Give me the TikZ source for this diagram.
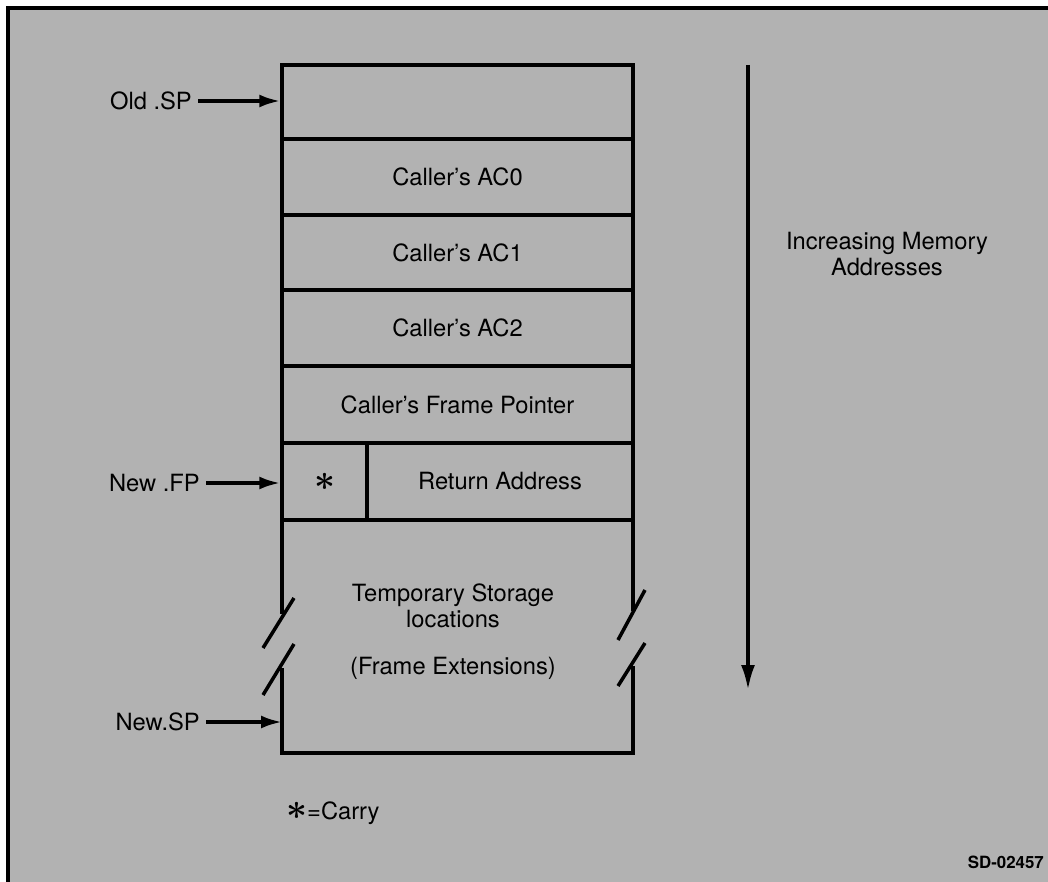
\documentclass[tikz,border=0pt]{standalone}
\usepackage{fontspec}
\setmainfont{TeX Gyre Heros}
\usetikzlibrary{positioning,arrows.meta}

\tikzset{
  cell/.style={draw, line width=2pt, minimum width=7.02cm, inner sep=0pt,
    font=\fontsize{13.5}{14.5}\selectfont},
  ptr/.style={-{Latex[length=0.42cm,width=0.26cm]}, line width=2pt},
  lbl/.style={font=\fontsize{13.5}{14.5}\selectfont, align=center},
}
\newcommand{\carrymark}{{\fontsize{22}{22}\selectfont\boldmath$\ast$}}

\begin{document}
\begin{tikzpicture}[x=0.02cm,y=-0.02cm]
  \useasboundingbox (0,0) rectangle (1048,882);
  \fill[black!30] (8,8) rectangle (1048,882);
  \draw[line width=2.6pt] (8,882) -- (8,8) -- (1048,8);

  % stack frame rows
  \foreach \nm/\yc/\hgt/\txt in
    {oldrow/102/1.48/{},
     aczero/177/1.52/{Caller's AC0},
     acone/252.5/1.5/{Caller's AC1},
     actwo/328/1.52/{Caller's AC2},
     callfp/404.5/1.54/{Caller's Frame Pointer}} {
    \node[cell, minimum height=\hgt cm] (\nm) at (457.5,\yc) {\txt};
  }
  \node[cell, minimum width=1.7cm, minimum height=1.54cm] (carry) at (324.5,481.5) {\carrymark};
  \node[cell, minimum width=5.32cm, minimum height=1.54cm] (ret) at (500,481.5) {Return Address};

  % temporary storage, broken sides
  \begin{scope}[line width=2pt]
    \draw (282,520) -- (282,614);
    \draw (282,668) -- (282,753) -- (633,753) -- (633,666);
    \draw (633,520) -- (633,611);
    \draw (263,648) -- (294,598);
    \draw (263,695) -- (294,644);
    \draw (618,640) -- (645,590);
    \draw (618,686) -- (645,643);
  \end{scope}
  \node[lbl] (tmp) at (453,606) {Temporary Storage\\locations};
  \node[lbl] (ext) at (453,668) {(Frame Extensions)};
  \coordinate (spend) at (282,722);

  % pointers
  \node[lbl, anchor=east] (oldsp) at (198,101) {Old .SP};
  \node[lbl, anchor=east] (newfp) at (206,483) {New .FP};
  \node[lbl, anchor=east] (newsp) at (206,722) {New.SP};
  \draw[ptr] (oldsp) -- (oldsp -| oldrow.west);
  \draw[ptr] (newfp) -- (newfp -| carry.west);
  \draw[ptr] (newsp) -- (spend);

  % direction of memory
  \coordinate (memtop) at (748,65);
  \coordinate (membot) at (748,690);
  \draw[ptr, -{Latex[length=0.5cm,width=0.28cm]}] (memtop) -- (membot);
  \node[lbl] (memlbl) at (887,254) {Increasing Memory\\Addresses};

  \node[lbl, anchor=west] (legend) at (280,813) {\carrymark=Carry};
  \node[anchor=east, font=\bfseries\fontsize{9.6}{11}\selectfont] (sdno) at (1050,862) {SD-02457};
\end{tikzpicture}
\end{document}
